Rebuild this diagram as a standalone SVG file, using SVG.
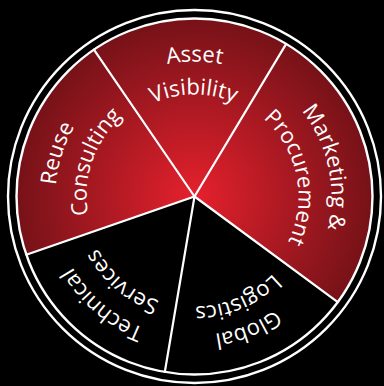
<svg xmlns="http://www.w3.org/2000/svg" width="384" height="386" viewBox="0 0 384 386">
<style>
.red{fill:url(#rg)}
.blk{fill:#000}
.lbl{font-family:"Open Sans","Liberation Sans",sans-serif;font-size:22px;fill:#fff;text-anchor:middle}
.div{stroke:#fff;stroke-width:2.2;fill:none;stroke-linecap:round}
.ring{stroke:#fff;stroke-width:2.4;fill:none}
</style>
<defs>
<radialGradient id="rg" gradientUnits="userSpaceOnUse" cx="194.5" cy="196.5" r="178">
<stop offset="0" stop-color="#e5212d"/>
<stop offset="1" stop-color="#761218"/>
</radialGradient>
<path id="a135" d="M60.01,184.73 A135,135 0 0 1 328.99,184.73"/>
<path id="a102" d="M92.89,187.61 A102,102 0 0 1 296.11,187.61"/>
<path id="a139" d="M56.03,184.38 A139,139 0 0 1 332.97,184.38"/>
<path id="a108" d="M86.91,187.09 A108,108 0 0 1 302.09,187.09"/>
<path id="a137" d="M58.02,184.56 A137,137 0 0 1 330.98,184.56"/>
<path id="a104" d="M90.90,187.44 A104,104 0 0 1 298.10,187.44"/>
<path id="a110" d="M84.92,186.91 A110,110 0 0 1 304.08,186.91"/>
<path id="a141" d="M54.04,184.21 A141,141 0 0 1 334.96,184.21"/>
</defs>
<rect width="384" height="386" fill="#000"/>
<g id="asset-visibility">
<path class="red" d="M194.5,196.5 L93.93,49.63 A178,178 0 0 1 286.17,43.92 Z"/>
<text class="lbl"><textPath href="#a135" startOffset="50%">Asset</textPath></text>
<text class="lbl" transform="rotate(-0.5 194.5 196.5)"><textPath href="#a102" startOffset="50%">Visibility</textPath></text>
</g>
<g id="marketing-procurement">
<path class="red" d="M194.5,196.5 L286.17,43.92 A178,178 0 0 1 337.77,302.13 Z"/>
<text class="lbl" transform="rotate(77.5 194.5 196.5)"><textPath href="#a137" startOffset="50%">Marketing &amp;</textPath></text>
<text class="lbl" transform="rotate(78.6 194.5 196.5)"><textPath href="#a104" startOffset="50%">Procurement</textPath></text>
</g>
<g id="global-logistics">
<path class="blk" d="M194.5,196.5 L337.77,302.13 A178,178 0 0 1 164.81,372.01 Z"/>
<text class="lbl" transform="rotate(158 194.5 196.5)"><textPath href="#a139" startOffset="50%">Global</textPath></text>
<text class="lbl" transform="rotate(157 194.5 196.5)"><textPath href="#a110" startOffset="50%">Logistics</textPath></text>
</g>
<g id="technical-services">
<path class="blk" d="M194.5,196.5 L164.81,372.01 A178,178 0 0 1 26.29,254.74 Z"/>
<text class="lbl" transform="rotate(-139.5 194.5 196.5)"><textPath href="#a141" startOffset="50%">Technical</textPath></text>
<text class="lbl" transform="rotate(-139.7 194.5 196.5)"><textPath href="#a110" startOffset="50%">Services</textPath></text>
</g>
<g id="reuse-consulting">
<path class="red" d="M194.5,196.5 L26.29,254.74 A178,178 0 0 1 93.93,49.63 Z"/>
<text class="lbl" transform="rotate(-72.5 194.5 196.5)"><textPath href="#a139" startOffset="50%">Reuse</textPath></text>
<text class="lbl" transform="rotate(-71 194.5 196.5)"><textPath href="#a108" startOffset="50%">Consulting</textPath></text>
</g>
<g id="dividers">
<line class="div" x1="194.5" y1="196.5" x2="93.93" y2="49.63"/>
<line class="div" x1="194.5" y1="196.5" x2="286.17" y2="43.92"/>
<line class="div" x1="194.5" y1="196.5" x2="337.77" y2="302.13"/>
<line class="div" x1="194.5" y1="196.5" x2="164.81" y2="372.01"/>
<line class="div" x1="194.5" y1="196.5" x2="26.29" y2="254.74"/>
</g>
<g id="rings">
<circle class="ring" cx="194.5" cy="196.5" r="178"/>
<circle class="ring" cx="194.5" cy="196.5" r="186.5"/>
</g>
</svg>
